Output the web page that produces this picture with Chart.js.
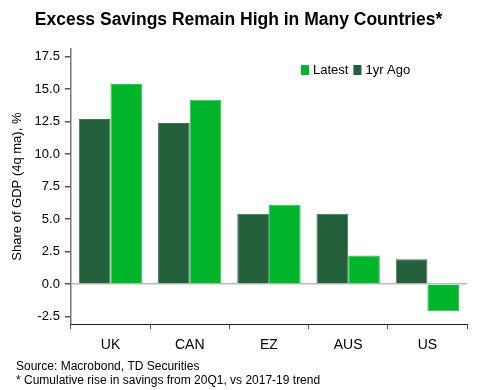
<!DOCTYPE html>
<html>
<head>
<meta charset="utf-8">
<script src="https://cdn.jsdelivr.net/npm/chart.js@4"></script>
<style>
    html, body { margin: 0; padding: 0; background: #fff; }
    #wrap { width: 480px; height: 390px; }
</style>
</head>
<body>
<div id="wrap"><canvas id="savingsChart"></canvas></div>
<script>
const countries = ['UK', 'CAN', 'EZ', 'AUS', 'US'];
const yearAgo = [12.7, 12.4, 5.4, 5.4, 1.9];
const latest = [15.4, 14.2, 6.1, 2.2, -2.1];
const footNotes = [
    'Source: Macrobond, TD Securities',
    '* Cumulative rise in savings from 20Q1, vs 2017-19 trend'
];

const FONT = '"Liberation Sans", Arial, sans-serif';

// legend drawn inside the plot, top right
const innerLegend = {
    id: 'innerLegend',
    afterDraw(chart) {
        const ctx = chart.ctx;
        const sets = chart.data.datasets.slice().reverse();
        let x = 301;
        const y = 70;
        ctx.save();
        ctx.font = '13px ' + FONT;
        ctx.textBaseline = 'middle';
        for (let ds of sets) {
            ctx.fillStyle = ds.backgroundColor;
            ctx.fillRect(x, y - 5, 8, 10);
            ctx.fillStyle = '#000';
            ctx.fillText(ds.label, x + 12, y);
            x += 12 + ctx.measureText(ds.label).width + 5;
        }
        ctx.restore();
    }
};

const footer = {
    id: 'footer',
    afterDraw(chart) {
        const ctx = chart.ctx;
        ctx.save();
        ctx.font = '12px ' + FONT;
        ctx.fillStyle = '#000';
        ctx.textBaseline = 'middle';
        footNotes.forEach((line, i) => ctx.fillText(line, 16, 367 + i * 14));
        ctx.restore();
    }
};

const ctx = document.getElementById('savingsChart').getContext('2d');
// eslint-disable-next-line no-undef
new Chart(ctx, {
    type: 'bar',
    data: {
        labels: countries,
        datasets: [{
            label: '1yr Ago',
            data: yearAgo,
            backgroundColor: '#235f3a',
            borderColor: '#3f7855',
            borderWidth: 1
        },
        {
            label: 'Latest',
            data: latest,
            backgroundColor: '#00b52a',
            borderColor: '#33c453',
            borderWidth: 1
        }]
    },
    plugins: [innerLegend, footer],
    options: {
        responsive: true,
        maintainAspectRatio: false,
        animation: false,
        layout: { padding: { left: 10, right: 13, top: 0, bottom: 28 } },
        datasets: {
            bar: { categoryPercentage: 0.8, barPercentage: 1 }
        },
        plugins: {
            legend: { display: false },
            tooltip: { enabled: false },
            title: {
                display: true,
                text: 'Excess Savings Remain High in Many Countries*',
                color: '#000',
                font: { family: FONT, size: 17.5, weight: 'bold' },
                padding: { top: 10, bottom: 18 }
            }
        },
        scales: {
            x: {
                border: { color: '#222', width: 1 },
                grid: {
                    offset: true,
                    drawOnChartArea: false,
                    drawTicks: true,
                    tickLength: 5,
                    tickColor: '#555'
                },
                ticks: {
                    color: '#000',
                    font: { family: FONT, size: 14 },
                    padding: 8
                }
            },
            y: {
                min: -3.1,
                max: 18.1,
                border: { color: '#777', width: 1.5 },
                grid: {
                    color: (c) => c.tick && c.tick.value === 0 ? '#bbb' : 'rgba(0,0,0,0)',
                    tickColor: '#555',
                    tickLength: 6,
                    lineWidth: 1.5
                },
                ticks: {
                    stepSize: 2.5,
                    includeBounds: false,
                    color: '#000',
                    font: { family: FONT, size: 13 },
                    padding: 5,
                    callback: (v) => v.toFixed(1)
                },
                title: {
                    display: true,
                    text: 'Share of GDP (4q ma), %',
                    color: '#000',
                    font: { family: FONT, size: 13 },
                    padding: { top: 0, bottom: 4 }
                }
            }
        }
    }
});
</script>
</body>
</html>
